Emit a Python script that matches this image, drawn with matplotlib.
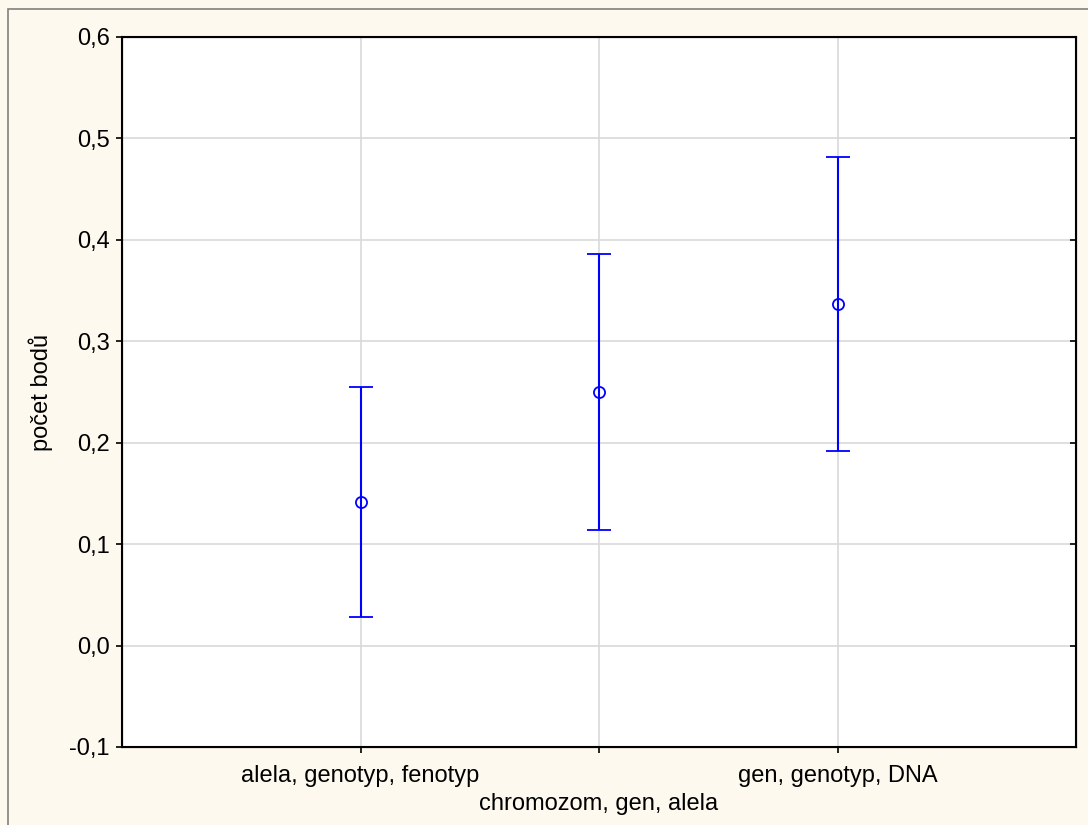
import matplotlib
matplotlib.use("Agg")
import matplotlib.pyplot as plt
from matplotlib.patches import Rectangle

# skupiny pojmu a prumerny pocet bodu s intervaly spolehlivosti
kategorie = ["alela, genotyp, fenotyp", "chromozom, gen, alela", "gen, genotyp, DNA"]
prumer = [0.142, 0.250, 0.337]
dolni = [0.028, 0.114, 0.192]
horni = [0.255, 0.386, 0.482]

plt.rcParams["font.family"] = ["Liberation Sans", "DejaVu Sans"]

fig = plt.figure(figsize=(10.88, 8.25), dpi=100)
fig.patch.set_facecolor("#fdf9ef")
# ramecek okna (jen horni a leva hrana jsou videt)
fig.add_artist(Rectangle((8 / 1088, -0.1), 1.2, 1 - 9 / 825 + 0.1,
                         transform=fig.transFigure, fill=False,
                         edgecolor="#808080", linewidth=1.2))

ax = fig.add_axes([122 / 1088, 1 - 747 / 825, 954 / 1088, 710 / 825])
ax.set_facecolor("white")

x = list(range(1, len(kategorie) + 1))
err_lo = [p - d for p, d in zip(prumer, dolni)]
err_hi = [h - p for p, h in zip(prumer, horni)]
ax.errorbar(x, prumer, yerr=[err_lo, err_hi], fmt="o", color="#0000ff",
            mfc="none", mec="#0000ff", ms=8, mew=1.3, elinewidth=1.5,
            capsize=8.5, capthick=1.5, zorder=3)

ax.set_xlim(0, 4)
ax.set_ylim(-0.1, 0.6)
yt = [-0.1, 0.0, 0.1, 0.2, 0.3, 0.4, 0.5, 0.6]
ax.set_yticks(yt)
ax.set_yticklabels([f"{v:.1f}".replace(".", ",") for v in yt])
ax.set_xticks(x)
ax.set_xticklabels([k if i % 2 == 0 else "\n" + k for i, k in enumerate(kategorie)],
                   linespacing=1.35)
ax.grid(True, color="#d9d9d9", linewidth=1.2, zorder=0)
ax.set_axisbelow(True)

for s in ax.spines.values():
    s.set_linewidth(1.5)
    s.set_color("black")
ax.tick_params(axis="both", labelsize=17, length=4, width=1.2, direction="out")
ax.tick_params(axis="y", pad=5)
ax.tick_params(axis="x", pad=9)
ax.set_ylabel("počet bodů", fontsize=17)
ax.yaxis.set_label_coords(-0.072, 0.5)

# kratke znacky dovnitr na prave ose
ax2 = ax.twinx()
ax2.set_ylim(ax.get_ylim())
ax2.set_yticks(yt)
ax2.tick_params(axis="y", direction="in", length=4, width=1.2, labelright=False)

fig.savefig("out.png", dpi=100, facecolor=fig.get_facecolor())
